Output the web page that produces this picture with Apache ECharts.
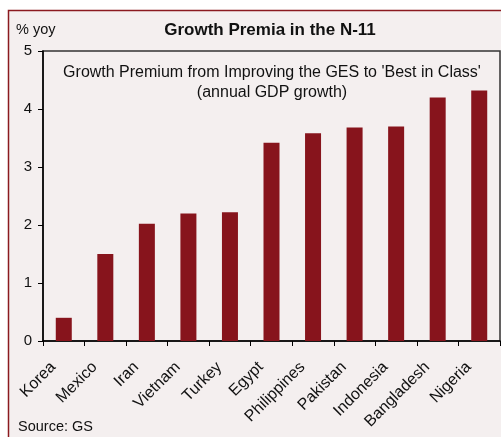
<!DOCTYPE html>
<html>
<head>
<meta charset="utf-8">
<script src="https://cdn.jsdelivr.net/npm/echarts@6/dist/echarts.min.js"></script>
<style>
  html, body { margin: 0; padding: 0; background: #fff; }
  #chart { width: 501px; height: 437px; }
</style>
</head>
<body>
<div id="chart"></div>
<script>
// N-11 growth premia
const countries = ['Korea', 'Mexico', 'Iran', 'Vietnam', 'Turkey', 'Egypt', 'Philippines', 'Pakistan', 'Indonesia', 'Bangladesh', 'Nigeria']
const premia = [0.4, 1.5, 2.02, 2.2, 2.22, 3.42, 3.58, 3.68, 3.7, 4.2, 4.32]
const yTicks = [0, 1, 2, 3, 4, 5]

const font = 'Liberation Sans, Arial, sans-serif'
const myChart = echarts.init(document.getElementById('chart'))

myChart.setOption({
  animation: false,
  backgroundColor: '#fff',
  textStyle: { fontFamily: font },
  graphic: [
    {
      type: 'rect',
      z: -10,
      shape: { x: 8.5, y: 10.5, width: 500, height: 430 },
      style: { fill: '#f4efef', stroke: '#8b1a1f', lineWidth: 1.5 }
    },
    {
      type: 'text', x: 16, y: 30,
      style: { text: '% yoy', fontSize: 14.5, fill: '#111', fontFamily: font, verticalAlign: 'middle' }
    },
    {
      type: 'text', x: 270, y: 30,
      style: { text: 'Growth Premia in the N-11', fontSize: 17, fontWeight: 'bold', fill: '#111', fontFamily: font, align: 'center', verticalAlign: 'middle' }
    },
    {
      type: 'text', x: 272, y: 63,
      style: {
        text: "Growth Premium from Improving the GES to 'Best in Class'\n(annual GDP growth)",
        fontSize: 16, lineHeight: 20, align: 'center', fill: '#111', fontFamily: font
      }
    },
    {
      type: 'text', x: 18, y: 427,
      style: { text: 'Source: GS', fontSize: 14.5, fill: '#111', fontFamily: font, verticalAlign: 'middle' }
    }
  ],
  grid: {
    left: 43,
    top: 51,
    right: 1,
    bottom: 96,
    show: true,
    borderColor: '#333',
    borderWidth: 1.5
  },
  xAxis: {
    type: 'category',
    data: countries,
    boundaryGap: true,
    axisLine: { lineStyle: { color: '#000', width: 1.5 } },
    axisTick: { show: true, length: 5, lineStyle: { color: '#000' } },
    axisLabel: { rotate: 45, fontSize: 16, color: '#111', margin: 13, padding: [0, 15, 0, 0], interval: 0 }
  },
  yAxis: {
    type: 'value',
    min: 0,
    max: 5,
    interval: 1,
    data: yTicks,
    axisLine: { show: true, lineStyle: { color: '#000', width: 1.5 } },
    axisTick: { show: true, length: 5, lineStyle: { color: '#000' } },
    splitLine: { show: false },
    axisLabel: { fontSize: 15, color: '#111', margin: 11 }
  },
  series: [
    {
      type: 'bar',
      data: premia,
      barWidth: 16,
      itemStyle: { color: '#87141c' }
    }
  ]
})
</script>
</body>
</html>
